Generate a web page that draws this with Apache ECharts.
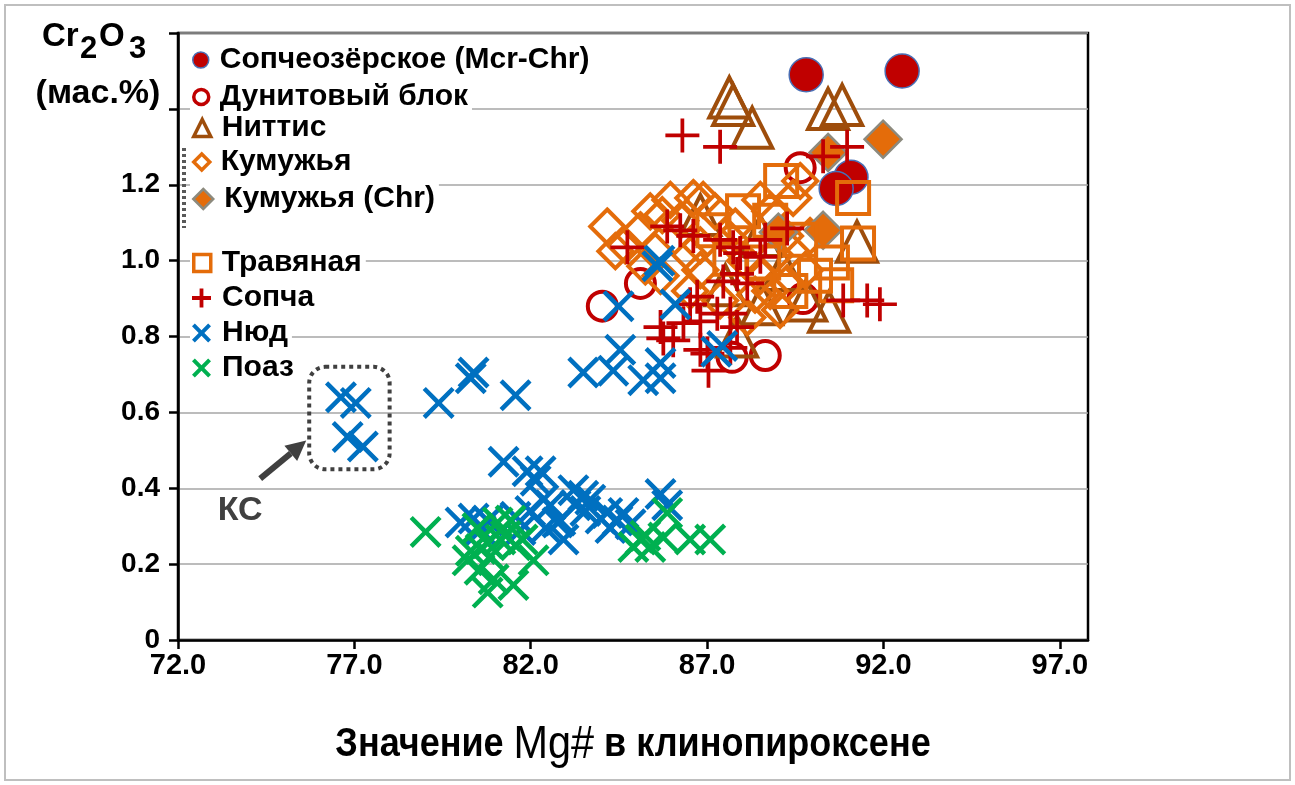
<!DOCTYPE html>
<html>
<head>
<meta charset="utf-8">
<script src="https://cdn.jsdelivr.net/npm/echarts@6/dist/echarts.min.js"></script>
<style>
  html, body { margin: 0; padding: 0; background: #fff; }
  #chart { width: 1295px; height: 785px; }
</style>
</head>
<body>
<div id="chart"></div>
<script>
// Mg# of clinopyroxene vs Cr2O3 (wt.%) by massif / body
const seriesNames = [
  'Сопчеозёрское (Mcr-Chr)', 'Дунитовый блок', 'Ниттис', 'Кумужья', 'Кумужья (Chr)',
  'Травяная', 'Сопча', 'Нюд', 'Поаз'
];

const sopcheozerskoe = [[89.81, 1.49], [92.53, 1.50], [91.08, 1.22], [90.66, 1.19]];

const dunitBlock = [[84.03, 0.88], [87.71, 0.745], [88.65, 0.75], [89.64, 1.245], [85.11, 0.94], [89.72, 0.90]];

const nittis = [
  [87.63, 1.43], [87.74, 1.41], [88.28, 1.35], [90.43, 1.40], [90.83, 1.41], [91.25, 1.05],
  [89.81, 0.895], [90.46, 0.865], [88.56, 0.885], [86.81, 1.12], [88.51, 1.065], [89.16, 0.975],
  [87.52, 0.935], [87.85, 0.80]
];

const kumuzhya = [
  [84.17, 1.09], [85.39, 1.13], [85.73, 1.12], [86.61, 1.165], [86.89, 1.16], [87.23, 1.13],
  [89.64, 1.21], [85.11, 1.08], [86.24, 1.105], [84.68, 1.04], [85.53, 1.025], [86.52, 1.015],
  [85.68, 0.96], [86.81, 0.975], [87.66, 1.055], [88.08, 1.0], [88.79, 1.13], [89.21, 1.065],
  [89.44, 1.165], [88.79, 0.92], [89.27, 0.94], [88.14, 0.85], [88.36, 0.91], [87.37, 0.895],
  [86.52, 0.92], [89.92, 1.065], [88.51, 1.16], [88.93, 1.015], [89.78, 0.975],
  [84.40, 1.025], [85.96, 1.16], [87.80, 1.09], [88.51, 0.96], [86.81, 1.04], [85.25, 0.985],
  [89.07, 0.87]
];

const kumuzhyaChr = [[91.99, 1.32], [90.43, 1.285], [90.29, 1.08], [89.02, 1.075]];

const travyanaya = [
  [89.10, 1.21], [88.02, 1.13], [91.14, 1.165], [91.28, 1.045], [90.54, 0.995], [90.66, 0.935],
  [90.06, 0.96], [88.79, 1.105], [89.64, 1.055], [87.18, 1.08], [88.59, 0.995], [89.36, 0.92],
  [87.66, 1.005]
];

const sopcha = [
  [86.30, 1.33], [87.37, 1.30], [90.29, 1.275], [90.97, 1.30], [84.74, 1.035], [85.87, 1.09],
  [86.24, 1.08], [86.61, 1.065], [87.37, 1.055], [87.74, 1.035], [87.94, 1.02], [88.51, 1.01],
  [89.27, 1.085], [87.46, 0.945], [87.85, 0.965], [86.72, 0.905], [86.81, 0.84], [85.68, 0.825],
  [86.04, 0.79], [87.29, 0.86], [87.85, 0.825], [87.66, 0.77], [86.81, 0.765], [90.86, 0.895],
  [91.54, 0.895], [91.90, 0.885], [85.76, 0.795], [86.33, 0.835], [87.01, 0.755], [87.66, 0.86],
  [86.52, 0.885], [88.14, 0.94], [87.04, 0.71], [88.65, 1.055]
];

const nyud = [
  [76.62, 0.64], [77.04, 0.625], [76.81, 0.535], [77.24, 0.51],
  [79.39, 0.625], [80.38, 0.705], [80.30, 0.69], [81.57, 0.645], [83.49, 0.705], [84.34, 0.71],
  [84.54, 0.765], [85.19, 0.685], [85.68, 0.73], [85.68, 0.69], [87.26, 0.76], [87.43, 0.775],
  [84.49, 0.88], [85.59, 0.985], [85.65, 1.0], [86.10, 0.885],
  [81.23, 0.47], [81.91, 0.445], [82.28, 0.445], [82.14, 0.42], [80.01, 0.31], [80.38, 0.32],
  [80.78, 0.315], [80.58, 0.29], [81.57, 0.325], [81.99, 0.34], [82.36, 0.37], [82.56, 0.355],
  [82.76, 0.31], [82.93, 0.265], [82.42, 0.295], [83.21, 0.395], [83.49, 0.38], [83.27, 0.355],
  [82.84, 0.315], [83.55, 0.34], [84.17, 0.335], [84.46, 0.315], [84.63, 0.335], [84.83, 0.305],
  [84.26, 0.295], [85.68, 0.385], [85.87, 0.355], [83.69, 0.37], [83.98, 0.32], [81.71, 0.29]
];

const poaz = [
  [79.02, 0.285], [80.49, 0.295], [81.06, 0.31], [81.43, 0.315], [80.30, 0.235], [80.78, 0.255],
  [81.14, 0.265], [81.57, 0.25], [80.86, 0.22], [82.08, 0.21], [80.95, 0.16], [81.51, 0.145],
  [80.78, 0.125], [80.21, 0.21], [80.58, 0.24], [81.29, 0.275], [81.77, 0.265], [80.55, 0.185],
  [85.87, 0.335], [85.11, 0.265], [84.91, 0.245], [85.39, 0.245], [85.76, 0.27], [86.52, 0.265],
  [87.09, 0.265], [85.25, 0.275]
];

const xTicks = [72, 77, 82, 87, 92, 97];
const yLabelMax = 1.2;

// group of points circled as "КС"
const ksBox = { x0: 75.72, x1: 78.0, y0: 0.45, y1: 0.72 };

// ---- styling ----
const RED = '#C00000', BROWN = '#9E4D0B', ORANGE = '#E46C0A', BLUE = '#0070C0', GREEN = '#00B050';
const FONT = "'Liberation Sans', Arial, sans-serif";

const PLUS = 'path://M8.9,0H11.1V8.9H20V11.1H11.1V20H8.9V11.1H0V8.9H8.9Z';
const CROSS = 'path://M2,0L10,8L18,0L20,2L12,10L20,18L18,20L10,12L2,20L0,18L8,10L0,2Z';
const PLUS_ICON = 'path://M8,0H12V8H20V12H12V20H8V12H0V8H8Z';
const CROSS_ICON = 'path://M3,0L10,7L17,0L20,3L13,10L20,17L17,20L10,13L3,20L0,17L7,10L0,3Z';

const hollow = c => ({ color: 'rgba(255,255,255,0)', borderColor: c, borderWidth: 4 });

const seriesDefs = [
  { data: sopcheozerskoe, symbol: 'circle', size: 34, style: { color: RED, borderColor: '#4A6FB5', borderWidth: 1.5 }, icon: 'circle', iconSize: 16 },
  { data: dunitBlock, symbol: 'circle', size: 29, style: hollow(RED), icon: 'circle', iconSize: 15 },
  { data: nittis, symbol: 'triangle', size: 40, style: hollow(BROWN), icon: 'triangle', iconSize: 17 },
  { data: kumuzhya, symbol: 'diamond', size: 34, style: hollow(ORANGE), icon: 'diamond', iconSize: 16 },
  { data: kumuzhyaChr, symbol: 'diamond', size: 37, style: { color: ORANGE, borderColor: '#8C8A7E', borderWidth: 2.5 }, icon: 'diamond', iconSize: 20 },
  { data: travyanaya, symbol: 'rect', size: 32, style: hollow(ORANGE), icon: 'rect', iconSize: 17 },
  { data: sopcha, symbol: PLUS, size: 34, style: { color: RED }, icon: PLUS_ICON, iconSize: 19 },
  { data: nyud, symbol: CROSS, size: 32, style: { color: BLUE }, icon: CROSS_ICON, iconSize: 19 },
  { data: poaz, symbol: CROSS, size: 32, style: { color: GREEN }, icon: CROSS_ICON, iconSize: 19 }
];

// vertical centre of each legend row
const legendRows = [60, 97, 128, 162, 199, 263, 298, 333, 368];

const chart = echarts.init(document.getElementById('chart'), null, { renderer: 'canvas' });

const option = {
  animation: false,
  backgroundColor: '#fff',
  grid: { left: 178, right: 207, top: 33, bottom: 145, show: true, borderColor: '#000', borderWidth: 2.5, backgroundColor: 'transparent' },
  xAxis: {
    type: 'value', min: 72, max: 97.8, interval: 5,
    axisLine: { show: true, onZero: false, lineStyle: { color: '#000', width: 2.5 } },
    axisTick: { show: true, length: 9, lineStyle: { color: '#000', width: 2.5 }, customValues: xTicks },
    axisLabel: { customValues: xTicks, formatter: v => v.toFixed(1), margin: 11, fontFamily: FONT, fontWeight: 'bold', fontSize: 29, color: '#000' },
    splitLine: { show: false }
  },
  yAxis: {
    type: 'value', min: 0, max: 1.6, interval: 0.2,
    axisLine: { show: true, onZero: false, lineStyle: { color: '#000', width: 2.5 } },
    axisTick: { show: true, length: 9, lineStyle: { color: '#000', width: 2.5 } },
    axisLabel: {
      margin: 18, fontFamily: FONT, fontWeight: 'bold', fontSize: 28, color: '#000',
      formatter: v => (v > yLabelMax + 1e-9 ? '' : (v === 0 ? '0' : v.toFixed(1)))
    },
    splitLine: { show: true, lineStyle: { color: '#A6A6A6', width: 1.5 } }
  },
  legend: seriesDefs.map((d, i) => ({
    data: [seriesNames[i]],
    left: 190,
    top: legendRows[i] - 15,
    orient: 'vertical',
    selectedMode: false,
    icon: d.icon,
    itemWidth: d.iconSize,
    itemHeight: d.iconSize,
    padding: [0, 4, 0, 2],
    backgroundColor: '#fff',
    itemStyle: { borderWidth: d.style.borderWidth === 4 ? 3.5 : (d.style.borderWidth || 0) },
    textStyle: { fontFamily: FONT, fontWeight: 'bold', fontSize: 30, color: '#000', lineHeight: 30, padding: [0, 0, 0, 6] }
  })),
  series: seriesDefs.map((d, i) => ({
    name: seriesNames[i],
    type: 'scatter',
    data: d.data,
    symbol: d.symbol,
    symbolSize: d.size,
    itemStyle: Object.assign({ opacity: 1 }, d.style),
    emphasis: { disabled: true }
  }))
};

chart.setOption(option);

// annotations: titles, frame, legend bracket, "КС" group outline and arrow
const p0 = chart.convertToPixel({ gridIndex: 0 }, [ksBox.x0, ksBox.y1]);
const p1 = chart.convertToPixel({ gridIndex: 0 }, [ksBox.x1, ksBox.y0]);
const bx = p0[0], by = p0[1], bw = p1[0] - p0[0], bh = p1[1] - p0[1];
const tip = [bx - 3, by + bh * 0.72];
const tail = [tip[0] - 46, tip[1] + 38];
const len = Math.hypot(tip[0] - tail[0], tip[1] - tail[1]);
const u = [(tip[0] - tail[0]) / len, (tip[1] - tail[1]) / len];
const nrm = [-u[1], u[0]];
const headLen = 20, headHalf = 10;
const base = [tip[0] - u[0] * headLen, tip[1] - u[1] * headLen];

const gridRect = chart.getModel().getComponent('grid', 0).coordinateSystem.getRect();
const titleFont = { fontFamily: FONT, fontWeight: 'bold', fill: '#000' };

chart.setOption({
  graphic: [
    { type: 'rect', silent: true, shape: { x: 5, y: 5, width: 1285, height: 775 }, style: { fill: 'none', stroke: '#BFBFBF', lineWidth: 2 } },
    // y-axis title: Cr2O3 (мас.%)
    { type: 'text', silent: true, x: 42, y: 37, style: Object.assign({ text: 'Cr', fontSize: 33, verticalAlign: 'middle' }, titleFont) },
    { type: 'text', silent: true, x: 80, y: 49, style: Object.assign({ text: '2', fontSize: 31, verticalAlign: 'middle' }, titleFont) },
    { type: 'text', silent: true, x: 99, y: 37, style: Object.assign({ text: 'O', fontSize: 33, verticalAlign: 'middle' }, titleFont) },
    { type: 'text', silent: true, x: 129, y: 49, style: Object.assign({ text: '3', fontSize: 31, verticalAlign: 'middle' }, titleFont) },
    { type: 'text', silent: true, x: 98, y: 94, style: Object.assign({ text: '(мас.%)', fontSize: 34, align: 'center', verticalAlign: 'middle' }, titleFont) },
    // x-axis title, condensed
    {
      type: 'text', silent: true, x: gridRect.x + gridRect.width / 2, y: 745, scaleX: 0.9,
      style: {
        text: '{a|Значение }{b|Mg#}{a| в клинопироксене}', align: 'center', verticalAlign: 'middle',
        rich: {
          a: { fontFamily: FONT, fontWeight: 'bold', fontSize: 40, fill: '#000' },
          b: { fontFamily: FONT, fontWeight: 'normal', fontSize: 46, fill: '#000' }
        }
      }
    },
    { type: 'line', silent: true, z: 200, shape: { x1: 184, y1: 148, x2: 184, y2: 228 }, style: { stroke: '#595959', lineWidth: 4, lineDash: [3, 3] } },
    { type: 'rect', silent: true, z: 200, shape: { x: bx, y: by, width: bw, height: bh, r: 16 }, style: { fill: 'none', stroke: '#404040', lineWidth: 4, lineDash: [4, 4] } },
    { type: 'line', silent: true, z: 200, shape: { x1: tail[0], y1: tail[1], x2: base[0], y2: base[1] }, style: { stroke: '#404040', lineWidth: 6 } },
    { type: 'polygon', silent: true, z: 200, shape: { points: [tip, [base[0] + nrm[0] * headHalf, base[1] + nrm[1] * headHalf], [base[0] - nrm[0] * headHalf, base[1] - nrm[1] * headHalf]] }, style: { fill: '#404040' } },
    { type: 'text', silent: true, z: 200, x: tail[0] - 20, y: tail[1] + 32, style: { text: 'КС', fontFamily: FONT, fontWeight: 'bold', fontSize: 34, fill: '#404040', align: 'center', verticalAlign: 'middle' } }
  ]
});
</script>
</body>
</html>
